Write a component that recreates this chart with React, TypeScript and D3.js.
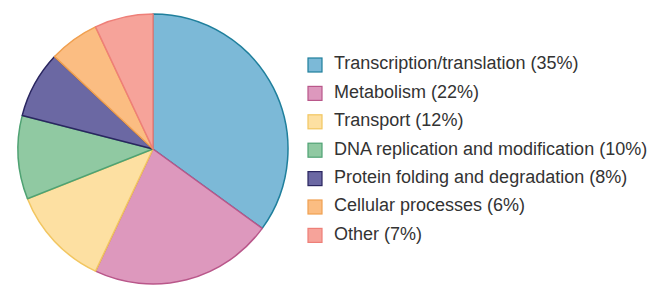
import React from "react";
import * as d3 from "d3";

const categories = [
  "Transcription/translation",
  "Metabolism",
  "Transport",
  "DNA replication and modification",
  "Protein folding and degradation",
  "Cellular processes",
  "Other",
];
const values = [35, 22, 12, 10, 8, 6, 7];
const fills = ["#7cb9d7", "#dd98bd", "#fde0a2", "#90c9a2", "#6b68a3", "#fbbd82", "#f6a39a"];
const strokes = ["#1f7f9c", "#b9578a", "#f2c660", "#4fa273", "#2a2660", "#f0a050", "#ee7f78"];

export default function App() {
  const W = 655, H = 291;
  const cx = 153, cy = 149, r = 135;
  const pie = d3.pie<number>().sort(null).value((d) => d);
  const arcs = pie(values);
  const arc = d3.arc<d3.PieArcDatum<number>>().innerRadius(0).outerRadius(r);
  const legendY = d3.scaleBand<number>().domain(d3.range(categories.length)).range([50.8, 249.6]);
  return (
    <svg width={W} height={H} style={{ position: "absolute", left: 0, top: 0, background: "#fff" }}>
      <g transform={`translate(${cx},${cy})`}>
        {arcs.map((a, i) => (
          <path key={i} d={arc(a) || ""} fill={fills[i]} stroke={strokes[i]} strokeWidth={1.5} strokeLinejoin="round" />
        ))}
      </g>
      {categories.map((c, i) => {
        const y = (legendY(i) || 0) + legendY.bandwidth() / 2;
        return (
          <g key={c}>
            <rect x={308} y={y - 7} width={14} height={14} fill={fills[i]} stroke={strokes[i]} strokeWidth={1.2} />
            <text x={334} y={y} dy="0.24em" fontFamily="Liberation Sans, Arial, sans-serif" fontSize={18} fill="#333">
              {`${c} (${values[i]}%)`}
            </text>
          </g>
        );
      })}
    </svg>
  );
}
